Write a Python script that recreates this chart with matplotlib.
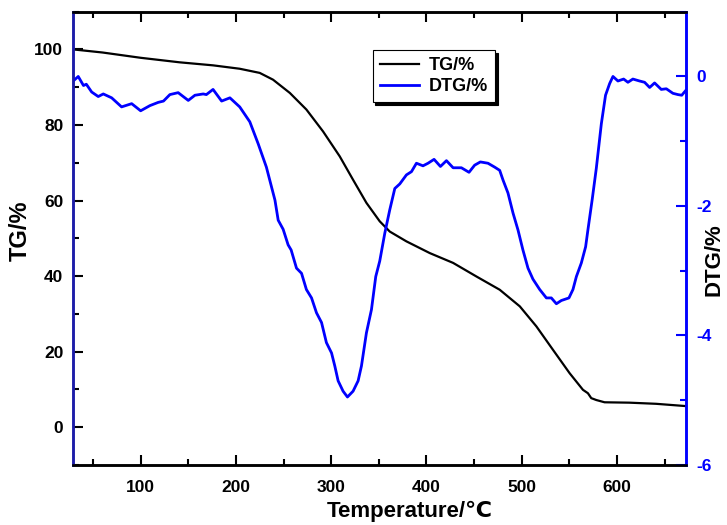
import matplotlib
matplotlib.use("Agg")
import matplotlib.pyplot as plt
from matplotlib.ticker import MultipleLocator

plt.rcParams['font.family'] = ['Liberation Sans', 'DejaVu Sans']
plt.rcParams['font.weight'] = 'bold'
plt.rcParams['axes.unicode_minus'] = False

# TG curve (left axis)
tg_temp = [30, 60, 100, 141, 176, 204, 225, 239, 256.6, 274, 291.5, 309, 323, 337,
           351, 361.5, 379, 403.5, 428, 452.5, 476.9, 498, 515.4, 532.8, 550.3,
           564.3, 569.5, 573, 578.3, 587, 613, 641, 672]
tg_vals = [100, 99.2, 97.8, 96.6, 95.8, 94.9, 93.8, 92, 88.5, 84.1, 78.3, 71.7, 65.5, 59.4,
           54.5, 51.8, 49.2, 46.1, 43.5, 39.9, 36.4, 32, 26.7, 20.5, 14.3,
           9.9, 9.0, 7.7, 7.2, 6.6, 6.5, 6.2, 5.6]

# DTG curve (right axis)
dtg_temp = [30, 34.5, 40, 43, 48.6, 55.5, 60.8, 69.6, 80, 90.6, 100, 109.8, 118.5, 124,
            130.7, 139.4, 150, 157, 165.7, 169, 176, 185, 193.7, 204, 214.6, 223.4,
            232, 241, 244.4, 249.6, 254.8, 258, 263.6, 268.9, 274, 279.4, 284.6, 289.9,
            295, 300.4, 303.8, 307.3, 312.5, 317.1, 323, 328.3, 331.8, 337, 342.3,
            346.8, 351, 356.3, 361.5, 366.8, 372, 379, 384.3, 389.5, 396.4, 401.7,
            408, 414.7, 421, 428, 436.7, 444.7, 450.6, 456.6, 464.6, 471.6, 476.9,
            480.4, 485.6, 490.9, 496.1, 501.3, 506.6, 511.8, 518.9, 525.9, 531.1,
            536.4, 541.6, 549.6, 553.8, 557.4, 562.6, 567.1, 569.5, 574, 578.3,
            583.6, 588, 592.3, 595.8, 601, 607, 611.5, 616.7, 623.7, 629, 634.3,
            639.5, 646.5, 651.8, 658.7, 664, 668, 672]
dtg_vals = [-0.06, 0.0, -0.14, -0.12, -0.24, -0.31, -0.27, -0.33, -0.47, -0.42, -0.53, -0.45, -0.40, -0.38,
            -0.28, -0.25, -0.37, -0.29, -0.27, -0.28, -0.2, -0.38, -0.33, -0.47, -0.70, -1.04,
            -1.4, -1.91, -2.22, -2.36, -2.6, -2.68, -2.96, -3.04, -3.29, -3.42, -3.65, -3.8,
            -4.11, -4.27, -4.47, -4.7, -4.86, -4.95, -4.86, -4.7, -4.47, -3.96, -3.6,
            -3.09, -2.85, -2.42, -2.06, -1.73, -1.66, -1.52, -1.47, -1.34, -1.38, -1.34,
            -1.28, -1.39, -1.3, -1.41, -1.41, -1.48, -1.37, -1.32, -1.34, -1.4, -1.45,
            -1.6, -1.8, -2.11, -2.37, -2.68, -2.96, -3.13, -3.29, -3.42, -3.42,
            -3.51, -3.46, -3.42, -3.29, -3.09, -2.88, -2.63, -2.37, -1.9, -1.42,
            -0.73, -0.29, -0.11, 0.0, -0.07, -0.04, -0.09, -0.04, -0.07, -0.09, -0.17,
            -0.1, -0.2, -0.19, -0.26, -0.28, -0.29, -0.22]

fig = plt.figure(figsize=(7.27, 5.25), dpi=100)
ax = fig.add_axes([0.1004, 0.1143, 0.8426, 0.8634])
ax2 = ax.twinx()

l1, = ax.plot(tg_temp, tg_vals, color='black', lw=1.6, label='TG/%')
l2, = ax2.plot(dtg_temp, dtg_vals, color='#0000ff', lw=2.0, label='DTG/%')

ax.set_xlim(29, 672)
ax.set_ylim(-10, 110)
ax2.set_ylim(-6, 1)

ax.xaxis.set_major_locator(MultipleLocator(100))
ax.xaxis.set_minor_locator(MultipleLocator(50))
ax.yaxis.set_major_locator(MultipleLocator(20))
ax.yaxis.set_minor_locator(MultipleLocator(10))
ax2.yaxis.set_major_locator(MultipleLocator(2))
ax2.yaxis.set_minor_locator(MultipleLocator(1))

ax.tick_params(axis='both', which='both', direction='in', width=1.5, labelsize=12.5)
ax.tick_params(axis='x', which='both', top=True, pad=10.5)
ax.tick_params(axis='y', which='both', pad=7)
ax.tick_params(which='major', length=7)
ax.tick_params(which='minor', length=4)
ax2.tick_params(which='both', direction='in', width=1.5, colors='#0000ff',
                labelsize=12.5, pad=8)
ax2.tick_params(which='major', length=7)
ax2.tick_params(which='minor', length=4)

for a in (ax, ax2):
    for s in a.spines.values():
        s.set_linewidth(1.8)
    a.spines['left'].set_color('#1c1ca8')
    a.spines['right'].set_color('#0000ff')

ax.set_xlabel('Temperature/℃', fontsize=16, fontweight='bold')
ax.xaxis.set_label_coords(0.550, -0.0794)
ax.set_ylabel('TG/%', fontsize=17, fontweight='bold')
ax.yaxis.set_label_coords(-0.067, 0.516)
ax2.set_ylabel('DTG/%', fontsize=16, fontweight='bold', color='black')
ax2.yaxis.set_label_coords(1.029, 0.452)

leg = ax2.legend(handles=[l1, l2], loc='upper left', bbox_to_anchor=(0.489, 0.9155),
                 fontsize=13, frameon=True, fancybox=False, handlelength=2.2,
                 borderaxespad=0, handletextpad=0.5, labelspacing=0.2,
                 shadow={'color': 'black', 'alpha': 1})
leg.get_frame().set_edgecolor('black')
leg.get_frame().set_linewidth(0.8)
for t in leg.get_texts():
    t.set_fontweight('bold')

fig.savefig('out.png', dpi=100)
